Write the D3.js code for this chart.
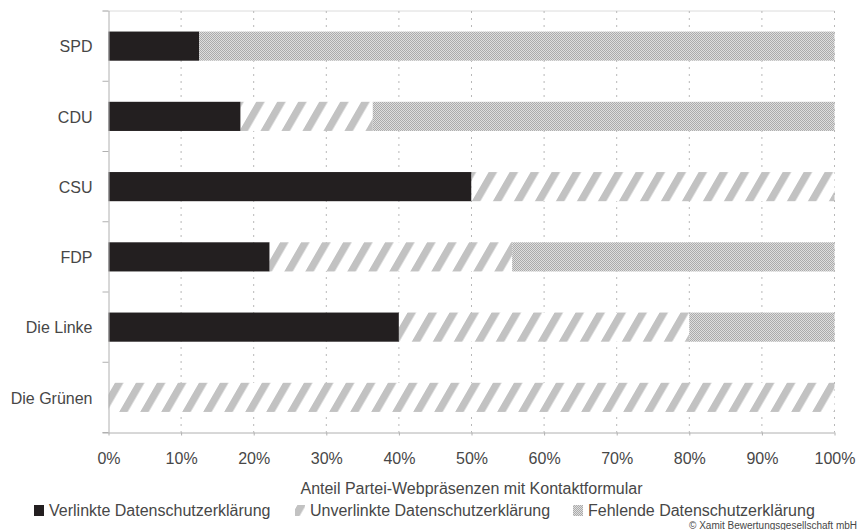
<!DOCTYPE html>
<html><head><meta charset="utf-8">
<script src="https://cdn.jsdelivr.net/npm/d3@7"></script>
<style>
body{margin:0;background:#fff;}
svg{display:block;font-family:"Liberation Sans",Arial,sans-serif;}
</style></head>
<body><svg id="chart" width="859" height="530"></svg>
<script>
const categories = ["SPD","CDU","CSU","FDP","Die Linke","Die Grünen"];
const verlinkt   = [12.5, 18.2, 50, 22.2, 40, 0];
const unverlinkt = [0, 18.2, 50, 33.4, 40, 100];
const fehlend    = [87.5, 63.6, 0, 44.4, 20, 0];
const seriesNames = ["Verlinkte Datenschutzerklärung","Unverlinkte Datenschutzerklärung","Fehlende Datenschutzerklärung"];
const xTicks = [0,10,20,30,40,50,60,70,80,90,100];
const axisTitle = "Anteil Partei-Webpräsenzen mit Kontaktformular";
const credit = "© Xamit Bewertungsgesellschaft mbH";

const svg = d3.select("#chart");
const defs = svg.append("defs");
// hatch pattern
const hatch = defs.append("pattern").attr("id","hatch").attr("patternUnits","userSpaceOnUse")
  .attr("width",21).attr("height",30).attr("patternTransform","skewX(-30)");
hatch.append("rect").attr("width",21).attr("height",30).attr("fill","#fff");
hatch.append("rect").attr("x",0).attr("width",8.5).attr("height",30).attr("fill","#c2c2c2");
// dotted pattern
const dots = defs.append("pattern").attr("id","dots").attr("patternUnits","userSpaceOnUse")
  .attr("width",2).attr("height",2);
dots.append("rect").attr("width",2).attr("height",2).attr("fill","#dedede");
dots.append("rect").attr("width",1).attr("height",1).attr("fill","#ababab");
dots.append("rect").attr("x",1).attr("y",1).attr("width",1).attr("height",1).attr("fill","#ababab");

const m = {left:108.5, right:834.5, top:11, bottom:432.5};
const x = d3.scaleLinear().domain([0,100]).range([m.left,m.right]);
const y = d3.scaleBand().domain(categories).range([m.top,m.bottom]).paddingInner(0.585).paddingOuter(0.2925);

const fills = ["#231f20","url(#hatch)","url(#dots)"];
const textCol = "#474747";
const fs = 16;

// top line
svg.append("line").attr("x1",m.left-6).attr("x2",m.right).attr("y1",m.top).attr("y2",m.top)
  .attr("stroke","#dcdcdc").attr("stroke-width",1);

// gridlines
svg.append("g").selectAll("line").data(xTicks.slice(1)).join("line")
  .attr("x1",d=>x(d)).attr("x2",d=>x(d)).attr("y1",m.top).attr("y2",m.bottom)
  .attr("stroke","#b8b8b8").attr("stroke-width",1).attr("stroke-dasharray","2,5");

// bars
const data = categories.map((c,i)=>({cat:c, vals:[verlinkt[i],unverlinkt[i],fehlend[i]]}));
const stackData = [];
data.forEach(d=>{let acc=0; d.vals.forEach((v,j)=>{ if(v>0) stackData.push({cat:d.cat,x0:acc,x1:acc+v,s:j}); acc+=v;});});
svg.append("g").selectAll("rect").data(stackData).join("rect")
  .attr("x",d=>x(d.x0)).attr("width",d=>x(Math.min(d.x1,100))-x(d.x0))
  .attr("y",d=>y(d.cat)).attr("height",y.bandwidth())
  .attr("fill",d=>fills[d.s]);

// x axis
const xAxis = d3.axisBottom(x).tickValues(xTicks).tickFormat(d=>d+"%").tickSize(3).tickSizeOuter(0);
const gx = svg.append("g").attr("transform",`translate(0,${m.bottom})`).call(xAxis);
gx.select(".domain").attr("stroke","#b0b0b0").attr("d",`M${m.left-6},0.5H${m.right}`);
gx.selectAll(".tick line").attr("stroke","#b0b0b0");
gx.selectAll(".tick text").attr("fill",textCol).attr("font-size",fs).attr("y",20).attr("dy","0.71em")
  .attr("font-family","'Liberation Sans',Arial,sans-serif");

// y axis
const yAxis = d3.axisLeft(y).tickSize(0).tickPadding(16);
const gy = svg.append("g").attr("transform",`translate(${m.left},1)`).call(yAxis);
gy.select(".domain").attr("stroke","#b0b0b0").attr("d",`M0.5,${m.top-1}V${m.bottom-1}`);
gy.selectAll(".tick text").attr("fill",textCol).attr("font-size",fs)
  .attr("font-family","'Liberation Sans',Arial,sans-serif");
// boundary ticks
const bounds = d3.range(categories.length+1).map(i=>m.top + i*(m.bottom-m.top)/categories.length);
svg.append("g").selectAll("line").data(bounds).join("line")
  .attr("x1",m.left-6).attr("x2",m.left).attr("y1",d=>d).attr("y2",d=>d)
  .attr("stroke","#b0b0b0");

// axis title
svg.append("text").attr("x",(m.left+m.right)/2).attr("y",494).attr("text-anchor","middle")
  .attr("font-size",fs).attr("fill",textCol).text(axisTitle);

// legend
const legX = [34, 295, 573];
const lg = svg.append("g").selectAll("g").data(seriesNames).join("g")
  .attr("transform",(d,i)=>`translate(${legX[i]},0)`);
lg.append("rect").attr("x",0).attr("y",505).attr("width",10).attr("height",11)
  .attr("fill",(d,i)=>fills[i]);
lg.append("text").attr("x",15).attr("y",515.5).attr("font-size",fs).attr("fill",textCol).text(d=>d);

svg.append("text").attr("x",857).attr("y",529).attr("text-anchor","end")
  .attr("font-size",10).attr("fill",textCol).text(credit);
</script></body></html>
